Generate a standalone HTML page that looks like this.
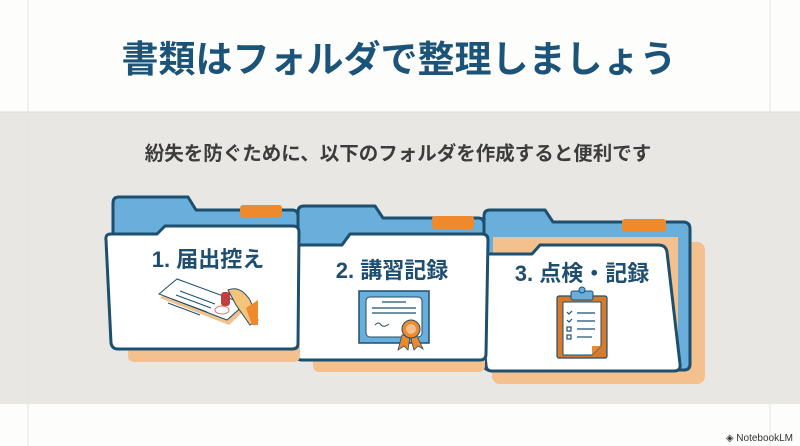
<!DOCTYPE html>
<html><head><meta charset="utf-8"><style>
html,body{margin:0;padding:0}
body{width:800px;height:446px;position:relative;overflow:hidden;background:#fdfdfb;font-family:"Liberation Sans","Noto Sans CJK JP",sans-serif}
</style></head><body>
<svg width="800" height="446" viewBox="0 0 800 446" xmlns="http://www.w3.org/2000/svg" style="position:absolute;left:0;top:0">
<rect x="0" y="0" width="800" height="112" fill="#fdfdfb"/>
<rect x="0" y="112" width="800" height="292" fill="#e8e7e3"/>
<line x1="0" y1="112" x2="800" y2="112" stroke="#dcdcd8"/>
<line x1="28" y1="0" x2="28" y2="446" stroke="#e4e4e0"/>
<line x1="770" y1="0" x2="770" y2="446" stroke="#e4e4e0"/>
<text x="399" y="72" text-anchor="middle" font-size="37" font-weight="bold" fill="#1b5478" font-family="Liberation Sans, Noto Sans CJK JP, sans-serif">書類はフォルダで整理しましょう</text>
<text x="398" y="160" text-anchor="middle" font-size="19.5" font-weight="bold" fill="#3c3c3c" font-family="Liberation Sans, Noto Sans CJK JP, sans-serif">紛失を防ぐために、以下のフォルダを作成すると便利です</text>

<g stroke="#1d4f6e" stroke-width="3" stroke-linejoin="round">
<rect x="492" y="242" width="213" height="142" rx="8" fill="#f3c08e" stroke="none"/>
<path d="M484 216 Q484 210 490 210 L545 210 L553 222 L683 222 Q690 222 690 229 L690 364 Q690 370 684 370 L490 370 Q484 370 484 364 Z" fill="#6aaedc"/>
<rect x="493" y="237" width="185" height="128" fill="#f3c08e" stroke="none"/>
<rect x="622" y="219" width="44" height="13" rx="3" fill="#ee8a2c" stroke="none"/>
<path d="M475 260 Q474 254 480 254 L532 254 L540 245 L658 245 Q666 245 667 252 L680 364 Q681 371 674 371 L492 371 Q486 371 486 365 Z" fill="#fff"/>
<rect x="313" y="352" width="172" height="20" rx="6" fill="#f3c08e" stroke="none"/>
<path d="M298 212 Q298 206 304 206 L375 206 L383 218 L478 218 Q484 218 484 224 L484 245 L298 245 Z" fill="#6aaedc"/>
<rect x="432" y="216" width="42" height="13" rx="3" fill="#ee8a2c" stroke="none"/>
<path d="M291 251 Q290 245 296 245 L342 245 L350 234 L482 234 Q488 234 488 240 L486 354 Q486 360 480 360 L302 360 Q296 360 296 354 Z" fill="#fff"/>
<rect x="128" y="342" width="172" height="20" rx="6" fill="#f3c08e" stroke="none"/>
<path d="M113 203 Q113 197 119 197 L188 197 L196 210 L292 210 Q298 210 298 216 L298 236 L113 236 Z" fill="#6aaedc"/>
<rect x="240" y="205" width="42" height="13" rx="3" fill="#ee8a2c" stroke="none"/>
<path d="M106 240 Q105 234 111 234 L157 234 L165 226 L293 226 Q299 226 299 232 L298 344 Q298 349 292 349 L118 349 Q112 349 111 343 Z" fill="#fff"/>
</g>

<g font-family="Liberation Sans, Noto Sans CJK JP, sans-serif" font-weight="bold" fill="#1f4e6e" font-size="22" text-anchor="middle">
<text x="208" y="267">1. 届出控え</text>
<text x="392" y="278">2. 講習記録</text>
<text x="582" y="281">3. 点検・記録</text>
</g>

<g>
<polygon points="160,298 178,282 247,308 229,325" fill="#f3c08e"/>
<polygon points="159,294 177,279 245,304 227,320" fill="#fff" stroke="#1d4f6e" stroke-width="1"/>
<g stroke="#1d4f6e" stroke-width="1"><line x1="180" y1="291" x2="215" y2="304"/><line x1="176" y1="295" x2="211" y2="308"/><line x1="172" y1="299" x2="207" y2="312"/><line x1="168" y1="303" x2="200" y2="315"/></g>
<ellipse cx="222" cy="310" rx="7" ry="4" fill="none" stroke="#e07070"/>
<rect x="221" y="292" width="9" height="14" rx="3" fill="#c04040"/>
<path d="M228 290 Q240 285 250 300 L258 320 L250 325 L236 305 Z" fill="#f5c47a" stroke="#1d4f6e" stroke-width="1"/>
<path d="M246 308 L258 300 L258 325 L252 325 Z" fill="#ee8a2c"/>
</g>
<g>
<rect x="359" y="291" width="70" height="52" fill="#6aaedc" stroke="#1d4f6e" stroke-width="1.5"/>
<rect x="366" y="297" width="56" height="40" rx="4" fill="#fff" stroke="#1d4f6e" stroke-width="1"/>
<g stroke="#1d4f6e" stroke-width="1.2"><line x1="382" y1="302" x2="406" y2="302"/><line x1="372" y1="308" x2="416" y2="308"/><line x1="372" y1="313" x2="416" y2="313"/></g>
<path d="M375 325 q4 -4 6 0 q3 3 8 -1" fill="none" stroke="#1d4f6e"/>
<polygon points="402,335 398,350 404,346 408,350 410,336" fill="#ee8a2c" stroke="#1d4f6e" stroke-width="0.8"/>
<polygon points="410,336 414,350 418,346 423,349 416,334" fill="#ee8a2c" stroke="#1d4f6e" stroke-width="0.8"/>
<circle cx="411" cy="329" r="9" fill="#ee8a2c" stroke="#1d4f6e" stroke-width="1"/>
<circle cx="411" cy="329" r="5" fill="#f3c08e"/>
</g>
<g>
<rect x="557" y="296" width="50" height="62" rx="2" fill="#d97a2a" stroke="#1d4f6e" stroke-width="1.2"/>
<path d="M563 302 L601 302 L601 346 L592 355 L563 355 Z" fill="#fff" stroke="#1d4f6e" stroke-width="1"/>
<polygon points="592,355 601,346 592,346" fill="#ee8a2c"/>
<rect x="571" y="291" width="22" height="9" rx="2" fill="#6aaedc" stroke="#1d4f6e" stroke-width="1"/>
<circle cx="582" cy="290" r="3" fill="#6aaedc" stroke="#1d4f6e" stroke-width="1"/>
<g stroke="#1d4f6e" stroke-width="1.2" fill="none">
<path d="M567 312 l2 2 l3 -3"/><line x1="577" y1="313" x2="595" y2="313"/>
<path d="M567 320 l2 2 l3 -3"/><line x1="577" y1="321" x2="595" y2="321"/>
<rect x="567" y="327" width="4" height="4"/><line x1="577" y1="329" x2="595" y2="329"/>
<rect x="567" y="335" width="4" height="4"/><line x1="577" y1="337" x2="592" y2="337"/>
</g>
</g>
<text x="793" y="441" text-anchor="end" font-size="10" fill="#333" font-family="Liberation Sans, sans-serif">◈ NotebookLM</text>
</svg>
</body></html>
